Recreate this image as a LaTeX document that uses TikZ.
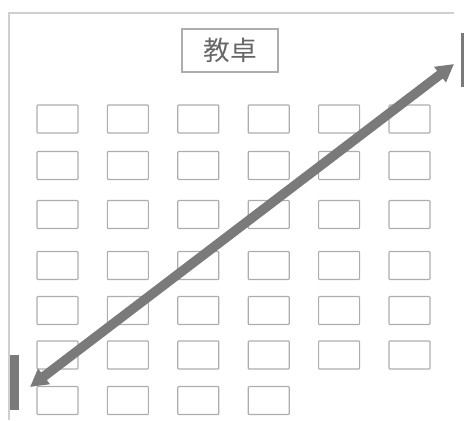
\documentclass[tikz,border=0pt]{standalone}
\usepackage{fontspec}
\usepackage{tikz}
\usetikzlibrary{arrows.meta}
\newfontfamily\cjk{Noto Sans CJK SC}
\definecolor{deskgray}{HTML}{ADADAD}
\definecolor{wallgray}{HTML}{CFCFCF}
\definecolor{arrowgray}{HTML}{7A7A7A}
\definecolor{textgray}{HTML}{666666}

\begin{document}
\begin{tikzpicture}[x=0.025cm, y=-0.025cm,
  desk/.style={draw=deskgray, line width=0.8pt, rounded corners=0.6pt,
               minimum width=1.025cm, minimum height=0.7cm, inner sep=0pt},
  podium/.style={draw=deskgray, line width=0.8pt,
                 minimum width=2.4cm, minimum height=1.075cm, inner sep=0pt,
                 font=\cjk\fontsize{19}{19}\selectfont, text=textgray},
  door/.style={fill=arrowgray, draw=none, inner sep=0pt},
  arr/.style={{Triangle[length=4.4mm, width=4.6mm]}-{Triangle[length=4.4mm, width=4.6mm]},
              line width=6.8pt, color=arrowgray}]
\useasboundingbox (0,0) rectangle (464,420);
% walls
\draw[wallgray, line width=0.9pt] (9,420) -- (9,13) -- (454,13);
% doors
\node[door, minimum width=0.2cm, minimum height=1.375cm] (doorL) at (14.5,382.5) {};
\node[door, minimum width=0.075cm, minimum height=1.35cm] (doorR) at (462.5,60) {};
% teacher's desk
\node[podium] (podium) at (230,50.5) {教卓};
% student desks
\foreach \y [count=\r] in {119,165.5,214.5,265.5,310.5,355}
  \foreach \c in {1,...,6}
    \node[desk] (d-\r-\c) at ({57.5+70.4*(\c-1)},\y) {};
\foreach \c in {1,...,4}
  \node[desk] (d-7-\c) at ({57.5+70.4*(\c-1)},400.5) {};
% walking route
\coordinate (endL) at (30,387);
\coordinate (endR) at (454,64);
\draw[arr] (endL) -- (endR);
\end{tikzpicture}
\end{document}
